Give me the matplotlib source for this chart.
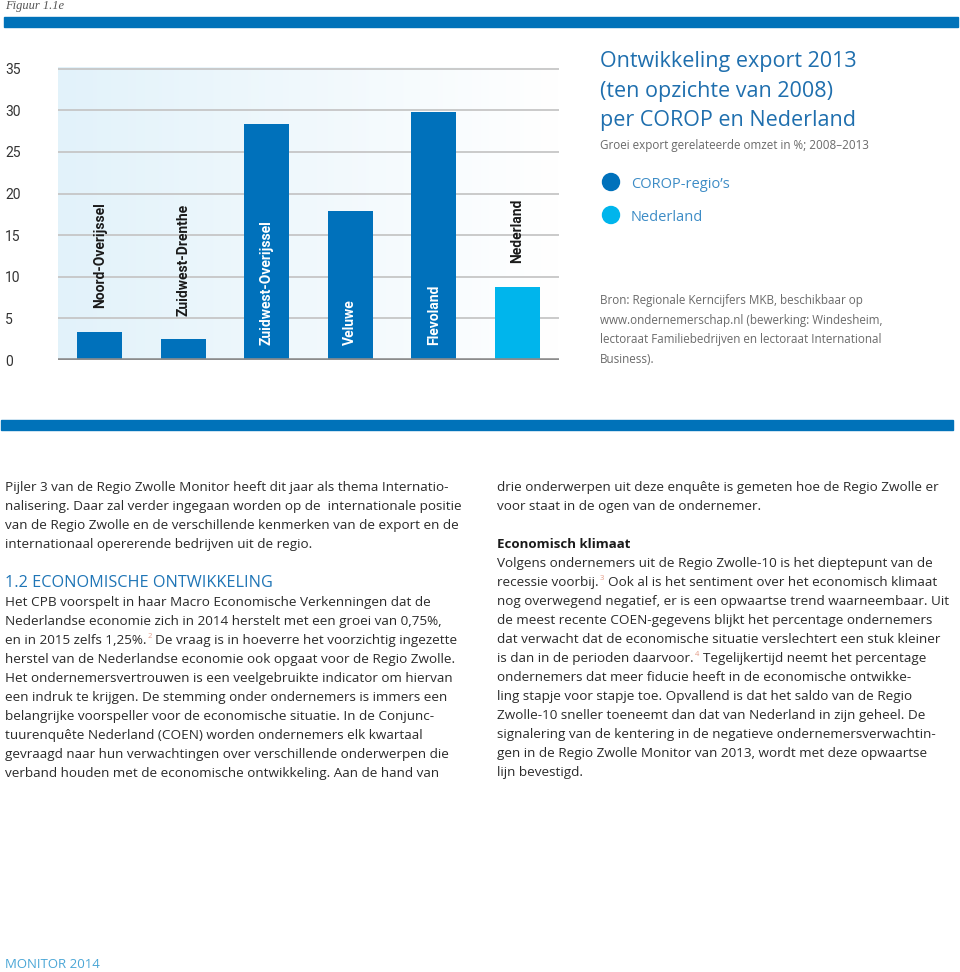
import numpy as np
import matplotlib
matplotlib.use('Agg')
import matplotlib.pyplot as plt
from matplotlib.colors import LinearSegmentedColormap
from matplotlib.patches import Rectangle, Circle

# chart data (growth export-related turnover, %, 2008-2013)
regions = ['Noord-Overijssel', 'Zuidwest-Drenthe', 'Zuidwest-Overijssel',
           'Veluwe', 'Flevoland', 'Nederland']
growth = [3.4, 2.5, 28.3, 17.9, 29.8, 8.8]
is_national = [False, False, False, False, False, True]
yticks = [0, 5, 10, 15, 20, 25, 30, 35]

DARK = '#0071bb'
LIGHT = '#00b5ec'
BODY = 'Open Sans'
NARROW = ['Liberation Sans Narrow', 'Roboto']
TXT = '#2a2a2a'

W, H = 960, 972
fig = plt.figure(figsize=(W / 100, H / 100), dpi=100)


def box(x0, y0, x1, y1):
    return [x0 / W, 1 - y1 / H, (x1 - x0) / W, (y1 - y0) / H]


# --- bar chart ---
ax = fig.add_axes(box(58, 67, 559, 360))
bg = LinearSegmentedColormap.from_list('bg', ['#e2f2fa', '#ffffff'])
ax.imshow(np.linspace(0, 1, 256)[None, :], extent=(-0.5, 5.5, 0, 35.2),
          aspect='auto', cmap=bg, zorder=0)
x = np.arange(len(regions))
ax.bar(x, growth, width=0.54, zorder=2,
       color=[LIGHT if n else DARK for n in is_national])
ax.set_xlim(-0.5, 5.5)
ax.set_ylim(0, 35.2)
ax.set_yticks(yticks)
ax.set_xticks([])
ax.yaxis.grid(True, color='#c6c6c6', lw=1.3)
ax.set_axisbelow(True)
ax.axhline(0, color='#8c8c8c', lw=2.6, zorder=3)
for s in ax.spines.values():
    s.set_visible(False)
ax.tick_params(axis='y', length=0, pad=38, labelsize=10, labelcolor='#333333')
for lbl in ax.get_yticklabels():
    lbl.set_ha('left')
    lbl.set_family(NARROW)

for i, (name, val) in enumerate(zip(regions, growth)):
    if val > 15:
        ax.annotate(name, (i, 0), xytext=(0, 11), textcoords='offset points',
                    rotation=90, ha='center', va='bottom', color='white',
                    fontsize=10, fontweight='bold', family=NARROW, zorder=4)
    else:
        ax.annotate(name, (i, val), xytext=(0, 17), textcoords='offset points',
                    rotation=90, ha='center', va='bottom', color='#1a1a1a',
                    fontsize=10, fontweight='bold', family=NARROW, zorder=4)

# --- page overlay in pixel coordinates ---
tx = fig.add_axes([0, 0, 1, 1])
tx.set_xlim(0, W)
tx.set_ylim(H, 0)
tx.axis('off')

tx.text(5, 9, 'Figuur 1.1e', family='Liberation Serif', style='italic',
        fontsize=9, color='#555555', va='baseline')
tx.add_patch(Rectangle((4, 17), 954, 10, color='#0072b9'))
tx.add_patch(Rectangle((1, 420), 952, 10, color='#0072b9'))

# title block
title = ['Ontwikkeling export 2013', '(ten opzichte van 2008)', 'per COROP en Nederland']
for k, s in enumerate(title):
    tx.text(600, 67 + 29.5 * k, s, family=BODY, fontsize=15.5,
            color='#1f6fae', va='baseline')
tx.text(600, 149, 'Groei export gerelateerde omzet in %; 2008\u20132013',
        family=BODY, fontsize=8.35, color='#6a6a6a', va='baseline')

legend_items = [("COROP-regio\u2019s", DARK), ('Nederland', LIGHT)]
for k, (lab, col) in enumerate(legend_items):
    yc = 182 + 33 * k
    tx.add_patch(Circle((611, yc), 8.5, color=col))
    tx.text(631, yc + 6, lab, family=BODY, fontsize=10.5, color='#3d8cc6',
            va='baseline')

source = ['Bron: Regionale Kerncijfers MKB, beschikbaar op',
          'www.ondernemerschap.nl (bewerking: Windesheim,',
          'lectoraat Familiebedrijven en lectoraat International',
          'Business).']
for k, s in enumerate(source):
    tx.text(600, 304 + 19.5 * k, s, family=BODY, fontsize=8.4, color='#6a6a6a',
            va='baseline')

# body text
left_a = ['Pijler 3 van de Regio Zwolle Monitor heeft dit jaar als thema Internatio-',
          'nalisering. Daar zal verder ingegaan worden op de  internationale positie',
          'van de Regio Zwolle en de verschillende kenmerken van de export en de',
          'internationaal opererende bedrijven uit de regio.']
left_b = ['Het CPB voorspelt in haar Macro Economische Verkenningen dat de',
          'Nederlandse economie zich in 2014 herstelt met een groei van 0,75%,',
          [('en in 2015 zelfs 1,25%.', False), ('2', True),
           ('De vraag is in hoeverre het voorzichtig ingezette', False)],
          'herstel van de Nederlandse economie ook opgaat voor de Regio Zwolle.',
          'Het ondernemersvertrouwen is een veelgebruikte indicator om hiervan',
          'een indruk te krijgen. De stemming onder ondernemers is immers een',
          'belangrijke voorspeller voor de economische situatie. In de Conjunc-',
          'tuurenqu\u00eate Nederland (COEN) worden ondernemers elk kwartaal',
          'gevraagd naar hun verwachtingen over verschillende onderwerpen die',
          'verband houden met de economische ontwikkeling. Aan de hand van']
right_a = ['drie onderwerpen uit deze enqu\u00eate is gemeten hoe de Regio Zwolle er',
           'voor staat in de ogen van de ondernemer.']
right_b = ['Volgens ondernemers uit de Regio Zwolle-10 is het dieptepunt van de',
           [('recessie voorbij.', False), ('3', True),
            ('Ook al is het sentiment over het economisch klimaat', False)],
           'nog overwegend negatief, er is een opwaartse trend waarneembaar. Uit',
           'de meest recente COEN-gegevens blijkt het percentage ondernemers',
           'dat verwacht dat de economische situatie verslechtert een stuk kleiner',
           [('is dan in de perioden daarvoor.', False), ('4', True),
            ('Tegelijkertijd neemt het percentage', False)],
           'ondernemers dat meer fiducie heeft in de economische ontwikke-',
           'ling stapje voor stapje toe. Opvallend is dat het saldo van de Regio',
           'Zwolle-10 sneller toeneemt dan dat van Nederland in zijn geheel. De',
           'signalering van de kentering in de negatieve ondernemersverwachtin-',
           'gen in de Regio Zwolle Monitor van 2013, wordt met deze opwaartse',
           'lijn bevestigd.']

FS = 9.7


def write(x, y, line):
    if isinstance(line, str):
        tx.text(x, y, line, family=BODY, fontsize=FS, color=TXT, va='baseline')
        return
    prev = None
    for s, sup in line:
        if prev is None:
            prev = tx.text(x, y, s, family=BODY, fontsize=FS, color=TXT,
                           va='baseline')
        elif sup:
            prev = tx.annotate(s, xy=(1, y), xycoords=(prev, 'data'),
                               xytext=(0.8, 4), textcoords='offset points',
                               family=BODY, fontsize=5.5, color='#e39a85',
                               va='baseline')
        else:
            prev = tx.annotate(s, xy=(1, y), xycoords=(prev, 'data'),
                               xytext=(2.5, 0), textcoords='offset points',
                               family=BODY, fontsize=FS, color=TXT,
                               va='baseline')


for k, line in enumerate(left_a):
    write(5, 491 + 19 * k, line)
tx.text(5, 587, '1.2 ECONOMISCHE ONTWIKKELING', family=BODY, fontsize=11.7,
        color='#1f75b6', va='baseline')
for k, line in enumerate(left_b):
    write(5, 606 + 19 * k, line)

for k, line in enumerate(right_a):
    write(497, 491 + 19 * k, line)
tx.text(497, 548, 'Economisch klimaat', family=BODY, fontweight='bold',
        fontsize=9.5, color='#1a1a1a', va='baseline')
for k, line in enumerate(right_b):
    write(497, 567 + 19 * k, line)

tx.text(5, 968, 'MONITOR 2014', family=BODY, fontsize=9.5, color='#4aa6d6',
        va='baseline')

fig.savefig('out.png', dpi=100)
